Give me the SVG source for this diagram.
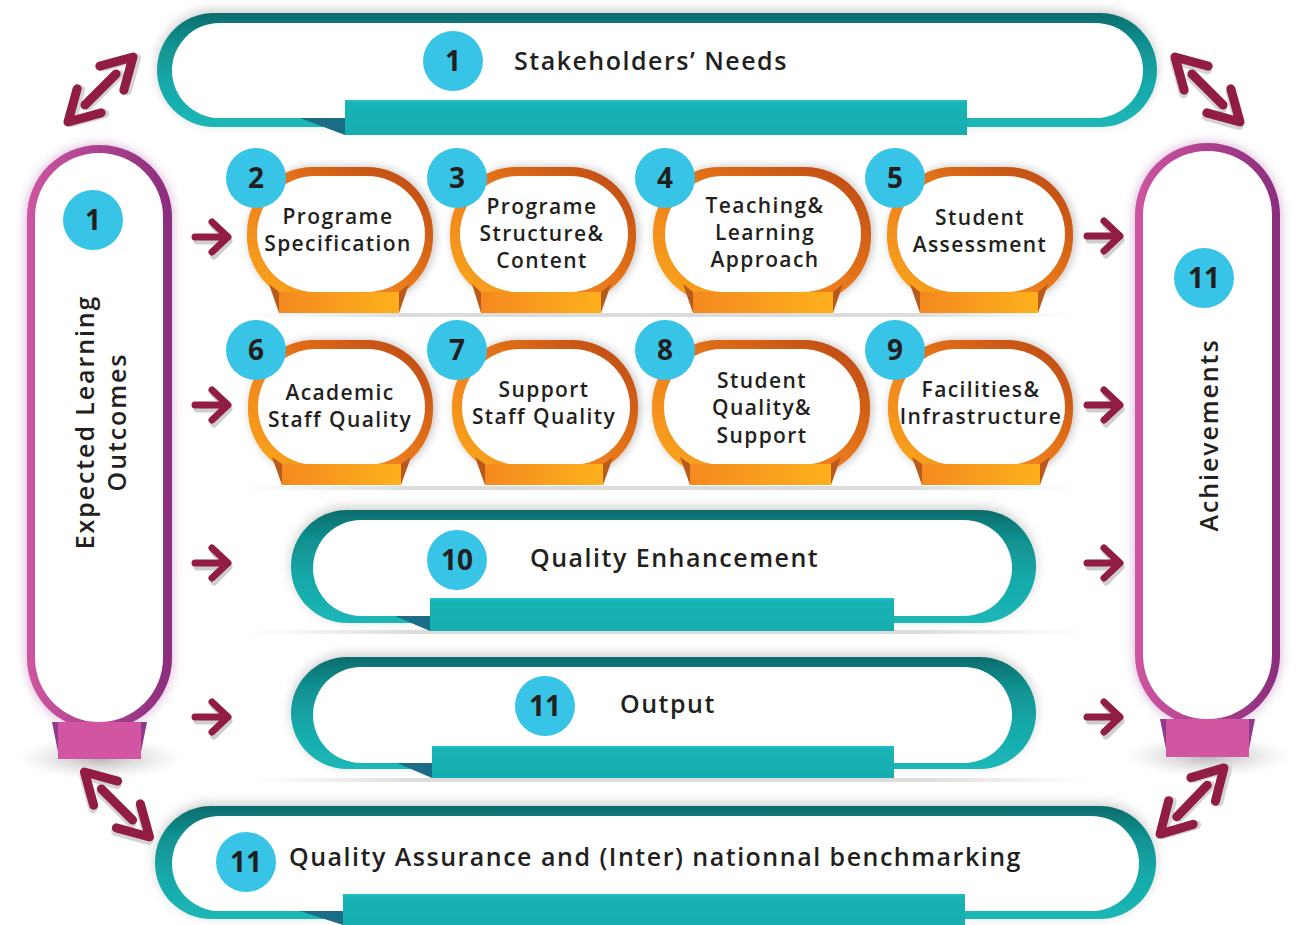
<svg xmlns="http://www.w3.org/2000/svg" width="1297" height="925" viewBox="0 0 1297 925">
<style>
.lbl{font-family:"Open Sans","Liberation Sans",sans-serif;font-weight:600;fill:#231f20}
.ban{font-size:25px;letter-spacing:1.5px}
.vt{font-size:25px;letter-spacing:1.9px}
.nt{font-size:21px;text-anchor:middle;letter-spacing:1.4px}
.num{font-family:"Open Sans","Liberation Sans",sans-serif;font-weight:700;font-size:28px;fill:#231f20;text-anchor:middle}
.bub{fill:#38c4e6}
.ring{fill:url(#orG);filter:url(#sh)}
.inner{fill:#fff}
.obar{fill:url(#obG)}
.oside{fill:#b9591a}
.tband{fill:url(#tG);filter:url(#tsh)}
.tbar{fill:url(#tbG)}
.tdark{fill:#1b6c86}
.pband{fill:url(#pG)}
.pbar{fill:#d155a0}
.pside{fill:#8e3b8e}
.arr{fill:none;stroke:#921d43;stroke-width:7;stroke-linecap:round;stroke-linejoin:round}
.darr{fill:none;stroke:#921d43;stroke-width:9;stroke-linecap:round;stroke-linejoin:round}
.ashd{fill:none;stroke:#cfcfcf;stroke-width:7;stroke-linecap:round;stroke-linejoin:round}
.dshd{fill:none;stroke:#d4d4d4;stroke-width:9;stroke-linecap:round;stroke-linejoin:round}
.sep{fill:url(#sepG)}
</style>
<defs>
<linearGradient id="tG" x1="0" y1="0" x2="0" y2="1">
<stop offset="0" stop-color="#0b6c6b"/><stop offset="0.25" stop-color="#118f8f"/><stop offset="0.6" stop-color="#16a8a8"/><stop offset="1" stop-color="#1cb7b7"/>
</linearGradient>
<linearGradient id="tbG" x1="0" y1="0" x2="0" y2="1">
<stop offset="0" stop-color="#21c3c4"/><stop offset="0.1" stop-color="#18b3b6"/><stop offset="1" stop-color="#16adb0"/>
</linearGradient>
<linearGradient id="orG" x1="0" y1="1" x2="1" y2="0">
<stop offset="0" stop-color="#fbac1c"/><stop offset="0.45" stop-color="#ef7e1c"/><stop offset="1" stop-color="#b8440f"/>
</linearGradient>
<linearGradient id="obG" x1="0" y1="0" x2="1" y2="0">
<stop offset="0" stop-color="#f4891f"/><stop offset="1" stop-color="#fdb11c"/>
</linearGradient>
<linearGradient id="pG" x1="0" y1="0" x2="1" y2="0">
<stop offset="0" stop-color="#cf55a0"/><stop offset="1" stop-color="#8a2d7d"/>
</linearGradient>
<linearGradient id="sepG" x1="0" y1="0" x2="1" y2="0">
<stop offset="0" stop-color="#e2e2e2" stop-opacity="0"/><stop offset="0.2" stop-color="#dcdcdc"/><stop offset="0.8" stop-color="#dcdcdc"/><stop offset="1" stop-color="#e2e2e2" stop-opacity="0"/>
</linearGradient>
<radialGradient id="shE">
<stop offset="0" stop-color="#9a9a9a" stop-opacity="0.75"/><stop offset="1" stop-color="#cccccc" stop-opacity="0"/>
</radialGradient>
<filter id="sh" x="-20%" y="-20%" width="140%" height="140%">
<feGaussianBlur in="SourceAlpha" stdDeviation="5"/><feOffset dx="2" dy="0"/>
<feComponentTransfer><feFuncA type="linear" slope="0.25"/></feComponentTransfer>
<feMerge><feMergeNode/><feMergeNode in="SourceGraphic"/></feMerge>
</filter>
<filter id="tsh" x="-10%" y="-30%" width="120%" height="160%">
<feGaussianBlur in="SourceAlpha" stdDeviation="6"/><feOffset dx="0" dy="-3"/>
<feComponentTransfer><feFuncA type="linear" slope="0.2"/></feComponentTransfer>
<feMerge><feMergeNode/><feMergeNode in="SourceGraphic"/></feMerge>
</filter>
<filter id="glow" x="-30%" y="-10%" width="160%" height="120%">
<feGaussianBlur stdDeviation="6"/>
</filter>
<g id="sa">
<path class="ashd" d="M-16,3 H9 M1,-12 L16,3 L1,18" transform="translate(1,1)"/>
<path class="arr" d="M-17,0 H9 M0,-15 L16,0 L0,15"/>
</g>
<g id="da">
<path class="dshd" d="M-22,0 H22 M16,-17 L46,0 L16,17 M-16,-17 L-46,0 L-16,17" transform="translate(2,3)"/>
<path class="darr" d="M-22,0 H22 M16,-17 L46,0 L16,17 M-16,-17 L-46,0 L-16,17"/>
</g>
</defs>

<rect width="1297" height="925" fill="#ffffff"/>

<!-- separators -->
<rect class="sep" x="240" y="313" width="840" height="4" rx="2"/>
<rect class="sep" x="240" y="486" width="840" height="4" rx="2"/>
<rect class="sep" x="240" y="630" width="850" height="4" rx="2"/>
<rect class="sep" x="250" y="778" width="840" height="4" rx="2"/>

<!-- Top banner -->
<g id="node-stakeholders">
<rect class="tband" x="157" y="13" width="1000" height="114" rx="57"/>
<rect class="inner" x="172" y="23" width="971" height="95" rx="47.5"/>
<polygon class="tdark" points="300,118 345,118 345,135"/>
<rect class="tbar" x="345" y="100" width="622" height="35"/>
<circle class="bub" cx="453" cy="61" r="30"/>
<text class="num" x="453" y="71">1</text>
<text class="lbl ban" x="514" y="70">Stakeholders’ Needs</text>
</g>

<!-- Left pill -->
<g id="node-elo">
<rect x="27" y="145" width="145" height="585" rx="72" fill="#a04a9a" opacity="0.45" filter="url(#glow)"/>
<ellipse cx="100" cy="758" rx="82" ry="22" fill="url(#shE)"/>
<rect class="pband" x="27" y="145" width="145" height="585" rx="72"/>
<rect class="inner" x="35" y="153" width="128" height="569" rx="64"/>
<polygon class="pside" points="52,722 58,722 58,752"/>
<polygon class="pside" points="141,722 147,722 141,752"/>
<rect class="pbar" x="58" y="722" width="83" height="37"/>
<circle class="bub" cx="93" cy="220" r="30"/>
<text class="num" x="93" y="230">1</text>
<text class="lbl vt" text-anchor="middle" transform="translate(94,422) rotate(-90)">Expected Learning</text>
<text class="lbl vt" text-anchor="middle" transform="translate(126,422) rotate(-90)">Outcomes</text>
</g>

<!-- Right pill -->
<g id="node-achievements">
<rect x="1135" y="143" width="145" height="584" rx="72" fill="#a04a9a" opacity="0.45" filter="url(#glow)"/>
<ellipse cx="1208" cy="756" rx="82" ry="22" fill="url(#shE)"/>
<rect class="pband" x="1135" y="143" width="145" height="584" rx="72"/>
<rect class="inner" x="1143" y="151" width="129" height="568" rx="64"/>
<polygon class="pside" points="1160,719 1166,719 1166,749"/>
<polygon class="pside" points="1249,719 1255,719 1249,749"/>
<rect class="pbar" x="1166" y="719" width="83" height="38"/>
<circle class="bub" cx="1204" cy="278" r="30"/>
<text class="num" x="1204" y="288">11</text>
<text class="lbl vt" text-anchor="middle" transform="translate(1218,435) rotate(-90)">Achievements</text>
</g>

<!-- Row 1 nodes -->
<g id="node-2">
<rect class="ring" x="247" y="167" width="186" height="136" rx="66"/>
<polygon class="oside" points="269,284 279,292 279,313"/>
<polygon class="oside" points="409,284 399,292 399,313"/>
<rect class="inner" x="257" y="176" width="168" height="116" rx="58"/>
<rect class="obar" x="279" y="292" width="120" height="21"/>
<circle class="bub" cx="256" cy="178" r="30"/>
<text class="num" x="256" y="188">2</text>
<text class="lbl nt"><tspan x="338" y="224">Programe</tspan><tspan x="338" y="251">Specification</tspan></text>
</g>
<g id="node-3">
<rect class="ring" x="450" y="167" width="186" height="136" rx="66"/>
<polygon class="oside" points="472,284 481,292 481,313"/>
<polygon class="oside" points="611,284 601,292 601,313"/>
<rect class="inner" x="460" y="176" width="168" height="116" rx="58"/>
<rect class="obar" x="481" y="292" width="120" height="21"/>
<circle class="bub" cx="457" cy="178" r="30"/>
<text class="num" x="457" y="188">3</text>
<text class="lbl nt"><tspan x="542" y="214">Programe</tspan><tspan x="542" y="241">Structure&amp;</tspan><tspan x="542" y="268">Content</tspan></text>
</g>
<g id="node-4">
<rect class="ring" x="653" y="167" width="218" height="136" rx="66"/>
<polygon class="oside" points="683,284 693,292 693,313"/>
<polygon class="oside" points="843,284 833,292 833,313"/>
<rect class="inner" x="665" y="176" width="196" height="116" rx="58"/>
<rect class="obar" x="693" y="292" width="140" height="21"/>
<circle class="bub" cx="665" cy="178" r="30"/>
<text class="num" x="665" y="188">4</text>
<text class="lbl nt"><tspan x="765" y="213">Teaching&amp;</tspan><tspan x="765" y="240">Learning</tspan><tspan x="765" y="267">Approach</tspan></text>
</g>
<g id="node-5">
<rect class="ring" x="887" y="167" width="186" height="136" rx="66"/>
<polygon class="oside" points="910,284 920,292 920,313"/>
<polygon class="oside" points="1048,284 1038,292 1038,313"/>
<rect class="inner" x="897" y="176" width="168" height="116" rx="58"/>
<rect class="obar" x="920" y="292" width="118" height="21"/>
<circle class="bub" cx="895" cy="178" r="30"/>
<text class="num" x="895" y="188">5</text>
<text class="lbl nt"><tspan x="980" y="225">Student</tspan><tspan x="980" y="252">Assessment</tspan></text>
</g>

<!-- Row 2 nodes -->
<g id="node-6">
<rect class="ring" x="248" y="340" width="185" height="136" rx="66"/>
<polygon class="oside" points="272,457 282,464 282,485"/>
<polygon class="oside" points="411,457 401,464 401,485"/>
<rect class="inner" x="258" y="349" width="167" height="116" rx="58"/>
<rect class="obar" x="282" y="464" width="119" height="21"/>
<circle class="bub" cx="256" cy="350" r="30"/>
<text class="num" x="256" y="360">6</text>
<text class="lbl nt"><tspan x="340" y="400">Academic</tspan><tspan x="340" y="427">Staff Quality</tspan></text>
</g>
<g id="node-7">
<rect class="ring" x="452" y="340" width="186" height="136" rx="66"/>
<polygon class="oside" points="475,457 485,464 485,485"/>
<polygon class="oside" points="613,457 603,464 603,485"/>
<rect class="inner" x="462" y="349" width="168" height="116" rx="58"/>
<rect class="obar" x="485" y="464" width="118" height="21"/>
<circle class="bub" cx="457" cy="350" r="30"/>
<text class="num" x="457" y="360">7</text>
<text class="lbl nt"><tspan x="544" y="397">Support</tspan><tspan x="544" y="424">Staff Quality</tspan></text>
</g>
<g id="node-8">
<rect class="ring" x="652" y="340" width="218" height="136" rx="66"/>
<polygon class="oside" points="680,457 690,464 690,485"/>
<polygon class="oside" points="841,457 831,464 831,485"/>
<rect class="inner" x="664" y="349" width="196" height="116" rx="58"/>
<rect class="obar" x="690" y="464" width="141" height="21"/>
<circle class="bub" cx="665" cy="350" r="30"/>
<text class="num" x="665" y="360">8</text>
<text class="lbl nt"><tspan x="762" y="388">Student</tspan><tspan x="762" y="415">Quality&amp;</tspan><tspan x="762" y="443">Support</tspan></text>
</g>
<g id="node-9">
<rect class="ring" x="888" y="340" width="185" height="136" rx="66"/>
<polygon class="oside" points="912,457 922,464 922,485"/>
<polygon class="oside" points="1050,457 1040,464 1040,485"/>
<rect class="inner" x="898" y="349" width="167" height="116" rx="58"/>
<rect class="obar" x="922" y="464" width="118" height="21"/>
<circle class="bub" cx="895" cy="350" r="30"/>
<text class="num" x="895" y="360">9</text>
<text class="lbl nt"><tspan x="981" y="397">Facilities&amp;</tspan><tspan x="981" y="424">Infrastructure</tspan></text>
</g>

<!-- Quality Enhancement -->
<g id="node-10">
<rect class="tband" x="291" y="510" width="745" height="113" rx="56"/>
<rect class="inner" x="313" y="520" width="699" height="96" rx="48"/>
<polygon class="tdark" points="395,616 430,616 430,631"/>
<rect class="tbar" x="430" y="598" width="464" height="33"/>
<circle class="bub" cx="457" cy="560" r="30"/>
<text class="num" x="457" y="570">10</text>
<text class="lbl ban" x="530" y="567">Quality Enhancement</text>
</g>

<!-- Output -->
<g id="node-11-output">
<rect class="tband" x="291" y="657" width="745" height="112" rx="56"/>
<rect class="inner" x="313" y="667" width="699" height="96" rx="48"/>
<polygon class="tdark" points="397,763 432,763 432,778"/>
<rect class="tbar" x="432" y="746" width="462" height="32"/>
<circle class="bub" cx="545" cy="706" r="30"/>
<text class="num" x="545" y="716">11</text>
<text class="lbl ban" x="620" y="713">Output</text>
</g>

<!-- Bottom banner -->
<g id="node-11-qa">
<rect class="tband" x="155" y="806" width="1001" height="113" rx="56"/>
<rect class="inner" x="172" y="816" width="967" height="95" rx="47.5"/>
<polygon class="tdark" points="300,911 343,911 343,925"/>
<rect class="tbar" x="343" y="894" width="622" height="31"/>
<circle class="bub" cx="246" cy="862" r="30"/>
<text class="num" x="246" y="872">11</text>
<text class="lbl ban" x="289" y="866">Quality Assurance and (Inter) nationnal benchmarking</text>
</g>

<!-- connectors -->
<g id="connectors">
<use href="#sa" transform="translate(212,237)"/>
<use href="#sa" transform="translate(212,405)"/>
<use href="#sa" transform="translate(212,563)"/>
<use href="#sa" transform="translate(212,717)"/>
<use href="#sa" transform="translate(1104,236)"/>
<use href="#sa" transform="translate(1104,405)"/>
<use href="#sa" transform="translate(1104,563)"/>
<use href="#sa" transform="translate(1104,717)"/>
<use href="#da" transform="translate(100.5,89.5) rotate(-45)"/>
<use href="#da" transform="translate(1207.5,89.5) rotate(45)"/>
<use href="#da" transform="translate(117,804.5) rotate(45)"/>
<use href="#da" transform="translate(1192,801) rotate(-46)"/>
</g>
</svg>
